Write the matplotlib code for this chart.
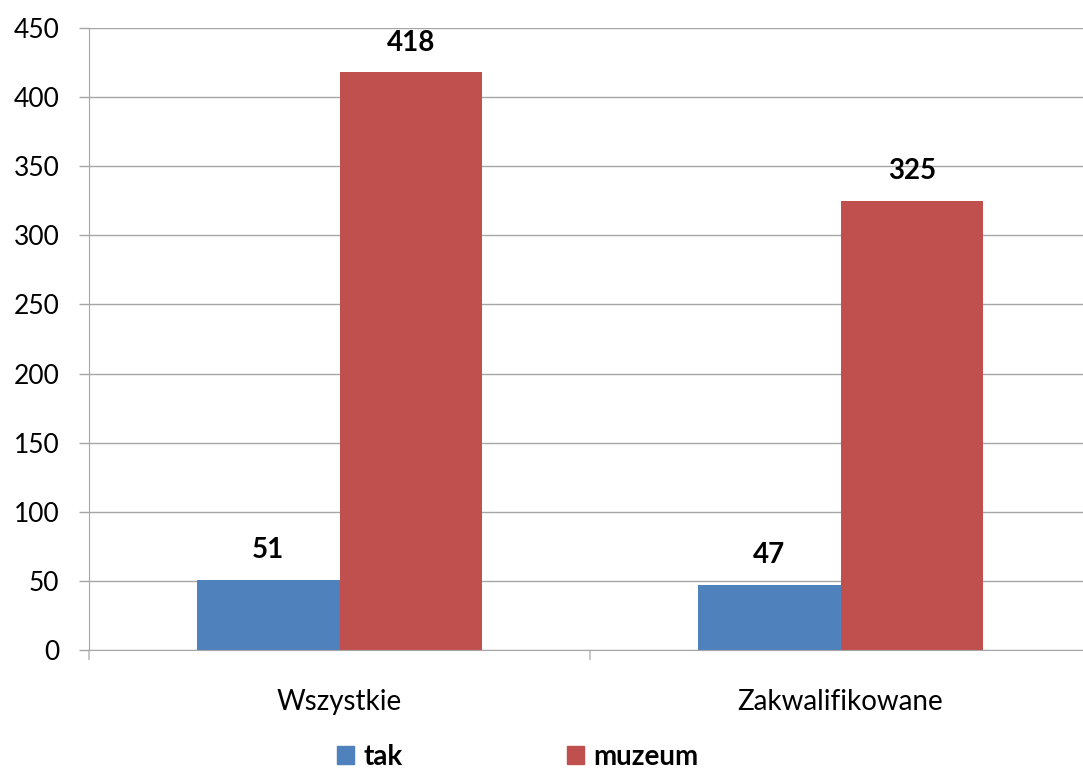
import matplotlib
matplotlib.use("Agg")
import matplotlib.pyplot as plt
from matplotlib.patches import Patch
import numpy as np

categories = ["Wszystkie", "Zakwalifikowane"]
series_names = ["tak", "muzeum"]
tak = [51, 47]
muzeum = [418, 325]
yticks = [0, 50, 100, 150, 200, 250, 300, 350, 400, 450]

colors = ["#4F81BD", "#C0504D"]
plt.rcParams['font.family'] = ['Lato', 'DejaVu Sans']

fig = plt.figure(figsize=(10.83, 7.73), dpi=100)
ax = fig.add_axes([89/1083, 1-650/773, 1002/1083, (650-28)/773])

x = np.arange(len(categories))
w = 0.285
b1 = ax.bar(x - w/2, tak, w, color=colors[0], zorder=3, label=series_names[0])
b2 = ax.bar(x + w/2, muzeum, w, color=colors[1], zorder=3, label=series_names[1])

for bars in (b1, b2):
    for r in bars:
        ax.text(r.get_x() + r.get_width()/2, r.get_height() + 12, f"{int(r.get_height())}",
                ha='center', va='bottom', fontsize=20, fontweight='bold', color='black')

ax.set_xlim(-0.5, 1.5)
ax.set_ylim(0, 450)
ax.set_yticks(yticks)
ax.yaxis.grid(True, color='#A6A6A6', linewidth=1, zorder=0)
ax.set_xticks(x)
ax.set_xticklabels(categories)
ax.set_xticks([-0.5, 0.5, 1.5], minor=True)
ax.tick_params(axis='x', which='major', length=0, pad=28, labelsize=20)
ax.tick_params(axis='x', which='minor', length=7.2, color='#BFBFBF', width=1.2)
ax.tick_params(axis='y', length=7.2, color='#A6A6A6', width=1, labelsize=19, pad=14)
for s in ['top', 'right']:
    ax.spines[s].set_visible(False)
ax.spines['left'].set_color('#A6A6A6')
ax.spines['bottom'].set_color('#A6A6A6')
ax.spines['bottom'].set_zorder(4)

handles = [Patch(color=colors[0], label=series_names[0]),
           Patch(color=colors[1], label=series_names[1])]
fig.legend(handles=handles, loc='center', bbox_to_anchor=(518/1083, 1-757/773), ncol=2,
           frameon=False, prop={'weight': 'bold', 'size': 20}, handlelength=0.6,
           handleheight=0.6, handletextpad=0.36, columnspacing=5.9,
           borderpad=0, borderaxespad=0)

fig.savefig("out.png", dpi=100)
